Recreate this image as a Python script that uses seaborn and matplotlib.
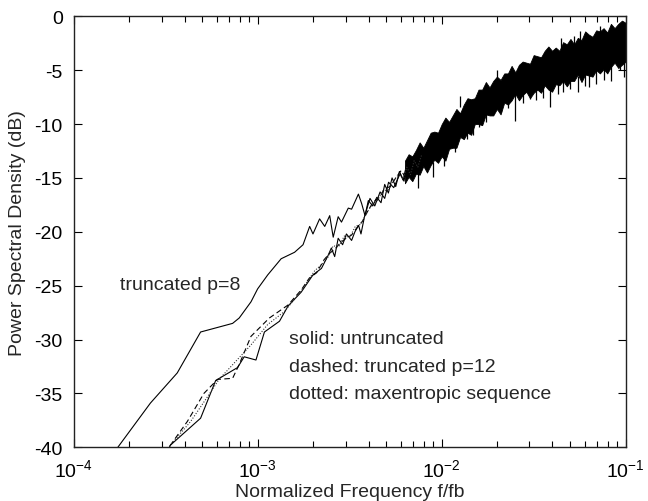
import numpy as np
import pandas as pd
import matplotlib
matplotlib.use("Agg")
import matplotlib.pyplot as plt
import seaborn as sns

# ---- data (x given as log10 of normalized frequency, y in dB) ----
p8_logf = [-3.80, -3.761, -3.584, -3.438, -3.311, -3.137, -3.101, -3.037, -3.001, -2.946,
           -2.873, -2.800, -2.754, -2.718, -2.700, -2.664, -2.636, -2.609, -2.590, -2.563,
           -2.545, -2.508, -2.490, -2.453, -2.435, -2.417, -2.399, -2.375, -2.353, -2.33,
           -2.31, -2.29, -2.27, -2.25, -2.23, -2.21, -2.19, -2.17, -2.15, -2.13, -2.11]
p8_db = [-40.9, -40.0, -35.9, -33.1, -29.3, -28.5, -28.0, -26.5, -25.3, -24.0,
         -22.5, -21.9, -21.2, -19.5, -20.2, -18.8, -19.5, -18.5, -20.5, -18.6,
         -19.1, -17.8, -17.9, -16.5, -17.4, -18.5, -17.1, -17.6, -16.8, -17.3,
         -15.6, -16.4, -15.0, -15.8, -14.4, -15.2, -13.7, -14.5, -13.0, -13.8, -12.5]

solid_logf = [-3.50, -3.475, -3.311, -3.229, -3.110, -3.074, -3.010, -2.964, -2.882, -2.836,
              -2.764, -2.700, -2.654, -2.618, -2.600, -2.582, -2.563, -2.539, -2.518, -2.490,
              -2.472, -2.452, -2.439, -2.420, -2.390, -2.364, -2.335, -2.310, -2.289, -2.261,
              -2.226, -2.205, -2.19, -2.17, -2.155, -2.14, -2.12, -2.10]
solid_db = [-40.6, -39.8, -37.3, -33.8, -32.6, -31.6, -31.9, -29.3, -28.3, -26.9,
            -25.6, -24.0, -23.4, -22.2, -21.5, -22.3, -20.6, -21.2, -20.2, -20.8,
            -20.0, -19.4, -20.2, -18.6, -16.9, -17.6, -16.3, -16.9, -15.4, -15.9,
            -14.6, -15.3, -13.8, -14.6, -13.2, -14.1, -12.7, -13.5]

dashed_logf = [-3.50, -3.475, -3.383, -3.293, -3.219, -3.137, -3.101, -3.037, -2.937, -2.836,
               -2.764, -2.72, -2.68, -2.64, -2.61, -2.58, -2.55, -2.52, -2.49, -2.46,
               -2.43, -2.40, -2.37, -2.34, -2.31, -2.28, -2.25, -2.22, -2.20, -2.18,
               -2.16, -2.14, -2.12, -2.10]
dashed_db = [-40.6, -39.8, -37.6, -35.0, -33.7, -33.6, -32.3, -29.7, -28.0, -26.8,
             -25.4, -24.3, -23.8, -22.6, -22.0, -21.6, -21.0, -20.6, -20.3, -19.6,
             -19.0, -18.0, -17.2, -16.8, -16.0, -15.8, -15.0, -14.3, -14.9, -13.6,
             -14.2, -13.0, -13.9, -12.6]

dotted_logf = [-3.50, -3.475, -3.365, -3.265, -3.211, -3.037, -2.946, -2.855, -2.764, -2.73,
               -2.69, -2.65, -2.62, -2.59, -2.56, -2.53, -2.50, -2.47, -2.44, -2.41,
               -2.38, -2.35, -2.32, -2.29, -2.26, -2.23, -2.21, -2.19, -2.17, -2.15,
               -2.13, -2.11]
dotted_db = [-40.6, -39.8, -37.6, -35.1, -33.7, -30.5, -28.6, -27.4, -25.5, -24.6,
             -23.6, -23.0, -22.4, -21.3, -21.4, -20.4, -20.5, -19.5, -19.3, -18.3,
             -17.5, -17.1, -16.2, -16.1, -15.2, -14.6, -15.1, -14.0, -14.7, -13.4,
             -14.0, -12.9]

# dense high-frequency region where all three curves merge (band edges)
band_logf = [-2.20, -2.18, -2.16, -2.14, -2.12, -2.10, -2.08, -2.06, -2.04, -2.02,
             -2.00, -1.98, -1.96, -1.94, -1.92, -1.90, -1.88, -1.86, -1.84, -1.82,
             -1.80, -1.78, -1.76, -1.74, -1.72, -1.70, -1.68, -1.66, -1.64, -1.62,
             -1.60, -1.58, -1.56, -1.54, -1.52, -1.50, -1.48, -1.46, -1.44, -1.42,
             -1.40, -1.38, -1.36, -1.34, -1.32, -1.30, -1.28, -1.26, -1.24, -1.22,
             -1.20, -1.18, -1.16, -1.14, -1.12, -1.10, -1.08, -1.06, -1.04, -1.02, -1.00]
band_top = [-13.4, -12.8, -13.0, -12.4, -11.7, -12.2, -11.5, -10.8, -10.7, -10.8,
            -10.0, -9.4, -9.8, -9.2, -8.6, -9.0, -8.2, -7.6, -7.7, -7.6,
            -6.8, -6.8, -6.1, -6.6, -6.0, -5.6, -5.9, -5.3, -5.3, -4.6,
            -5.2, -4.5, -4.2, -4.3, -4.4, -3.6, -3.7, -3.8, -3.2, -2.8,
            -3.2, -2.9, -3.2, -2.4, -2.6, -2.1, -2.6, -2.0, -2.2, -1.4,
            -1.7, -1.9, -1.3, -1.4, -1.1, -1.5, -0.7, -1.1, -0.7, -0.4, -0.6]
band_bot = [-15.5, -14.9, -15.3, -14.6, -14.7, -13.9, -14.5, -13.8, -13.3, -13.6,
            -13.0, -13.4, -12.3, -12.2, -12.2, -11.2, -11.4, -10.8, -11.0, -10.0,
            -10.0, -10.1, -9.1, -9.2, -9.2, -8.6, -9.1, -8.0, -8.2, -7.8,
            -7.2, -7.8, -7.3, -7.0, -7.6, -7.1, -6.8, -7.1, -6.4, -6.8,
            -7.0, -6.3, -6.4, -6.0, -6.5, -6.0, -6.0, -5.4, -6.1, -5.4,
            -5.5, -5.6, -5.0, -5.3, -4.9, -5.3, -4.7, -4.3, -4.8, -4.5, -4.2]

# isolated spikes sticking out of the band
spike_logf = [-2.13, -2.05, -1.99, -1.93, -1.86, -1.83, -1.80, -1.76, -1.72, -1.68,
              -1.64, -1.60, -1.56, -1.52, -1.49, -1.45, -1.41, -1.37, -1.34, -1.30,
              -1.26, -1.22, -1.20, -1.16, -1.12, -1.08, -1.03, -1.01,
              -1.90, -1.70, -1.35, -1.28, -1.25, -1.14]
spike_lo = [-15.9, -14.9, -13.9, -12.6, -11.4, -11.0, -10.3, -9.8, -9.0, -8.9,
            -8.5, -9.7, -8.0, -7.7, -7.8, -7.6, -8.4, -7.2, -7.0, -6.7,
            -7.0, -6.5, -6.6, -6.3, -5.9, -6.0, -5.0, -5.6,
            -8.4, -6.0, -3.0, -2.8, -2.4, -1.5]
spike_hi = [-14.5, -13.5, -12.5, -11.5, -10.5, -10.0, -9.2, -8.8, -8.0, -7.8,
            -7.4, -7.0, -6.8, -6.5, -6.4, -6.3, -6.0, -6.0, -5.8, -5.5,
            -5.5, -5.2, -5.0, -4.8, -4.5, -4.4, -4.0, -4.0,
            -7.4, -5.0, -2.0, -1.8, -1.4, -0.9]

xticks = [1e-4, 1e-3, 1e-2, 1e-1]
xtick_labels = [r"$10^{-4}$", r"$10^{-3}$", r"$10^{-2}$", r"$10^{-1}$"]
yticks = [0, -5, -10, -15, -20, -25, -30, -35, -40]

# ---- plotting ----
sns.set_style("ticks")
plt.rcParams["font.family"] = ["Liberation Sans", "DejaVu Sans"]
plt.rcParams["axes.unicode_minus"] = False
plt.rcParams["mathtext.default"] = "regular"

fig = plt.figure(figsize=(6.48, 5.02), dpi=100)
ax = fig.add_axes([0.114, 0.107, 0.8515, 0.8585])

def frame(logf, db):
    return pd.DataFrame({"f": np.power(10.0, logf), "db": db})

lw = 0.8
sns.lineplot(data=frame(p8_logf, p8_db), x="f", y="db", ax=ax, color="black", lw=lw, estimator=None)
sns.lineplot(data=frame(solid_logf, solid_db), x="f", y="db", ax=ax, color="black", lw=lw, estimator=None)
sns.lineplot(data=frame(dashed_logf, dashed_db), x="f", y="db", ax=ax, color="black", lw=lw,
             estimator=None, linestyle=(0, (5, 3)))
sns.lineplot(data=frame(dotted_logf, dotted_db), x="f", y="db", ax=ax, color="#333333", lw=lw,
             estimator=None, linestyle=(0, (1, 1.5)))

bf = np.power(10.0, band_logf)
ax.fill_between(bf, band_bot, band_top, color="black", lw=0.6, edgecolor="black")
ax.vlines(np.power(10.0, spike_logf), spike_lo, spike_hi, color="black", lw=0.9)

ax.set_xscale("log")
ax.set_xlim(1e-4, 1e-1)
ax.set_ylim(-40, 0)
ax.set_xticks(xticks)
ax.set_xticklabels(xtick_labels)
ax.set_yticks(yticks)
ax.set_yticklabels([str(v) for v in yticks])
ax.tick_params(axis="both", which="both", direction="in", top=True, right=True,
               labelsize=14, colors="black")
ax.tick_params(axis="both", which="major", length=6, width=0.8)
ax.tick_params(axis="x", which="minor", length=4, width=0.8)
ax.tick_params(axis="x", which="major", pad=8)
ax.tick_params(axis="y", which="major", pad=8)
for s in ax.spines.values():
    s.set_linewidth(1.0)
    s.set_color("#222222")

ax.set_xlabel("Normalized Frequency f/fb", fontsize=14, labelpad=2)
ax.set_ylabel("Power Spectral Density (dB)", fontsize=14, labelpad=6)

ax.text(1.79e-4, -24.9, "truncated p=8", fontsize=14, va="center", ha="left")
ax.text(1.486e-3, -29.9, "solid: untruncated", fontsize=14, va="center", ha="left")
ax.text(1.486e-3, -32.5, "dashed: truncated p=12", fontsize=14, va="center", ha="left")
ax.text(1.486e-3, -35.0, "dotted: maxentropic sequence", fontsize=14, va="center", ha="left")

fig.savefig("out.png", dpi=100)
